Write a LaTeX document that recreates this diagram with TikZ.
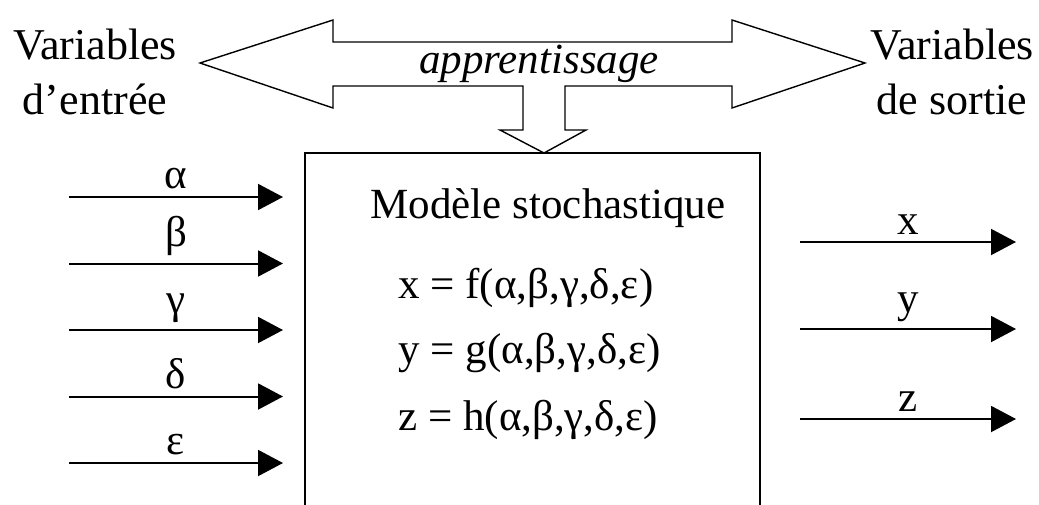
\documentclass[tikz,border=0pt]{standalone}
\usepackage{fontspec}
\setmainfont{Liberation Serif}
\usepackage{tikz}
\usetikzlibrary{arrows.meta,positioning}

\begin{document}
\begin{tikzpicture}[
    x=0.5pt, y=-0.5pt,
    every node/.style={align=center},
    txt/.style={font=\fontsize{21.5}{27.5}\selectfont},
    sidetxt/.style={font=\fontsize{22}{27.5}\selectfont},
    flow/.style={line width=1pt, -{Triangle[length=12.5pt,width=13pt]}},
    model/.style={
        rectangle,
        draw=black,
        line width=0.9pt,
        minimum width=227.5pt,
        minimum height=187pt
    }
]
\useasboundingbox (0,0) rectangle (1039,504);
\clip (0,0) rectangle (1039,504);

% side labels
\node[sidetxt] (varin) at (95,72) {Variables\\d'entrée};
\node[sidetxt] (varout) at (952,72) {Variables\\de sortie};

% learning arrow
\draw[line width=0.7pt, line join=miter]
    (200,63) -- (333,20) -- (333,42) -- (732,42) -- (732,20) -- (865,63)
    -- (732,108) -- (732,86) -- (565,86) -- (565,130) -- (586,130)
    -- (544,153) -- (500,130) -- (523,130) -- (523,86) -- (333,86)
    -- (333,108) -- cycle;
\node[txt, font=\fontsize{21.5}{27.5}\selectfont\itshape] (learn) at (539,64) {apprentissage};

% model
\node[model] (box) at (532.5,340) {};
\node[txt] (title) at (548,208) {Modèle stochastique};
\node[txt, anchor=west, inner sep=0pt] (eqx) at (398,288) {x = f(α,β,γ,δ,ε)};
\node[txt, anchor=west, inner sep=0pt] (eqy) at (398,353) {y = g(α,β,γ,δ,ε)};
\node[txt, anchor=west, inner sep=0pt] (eqz) at (398,420) {z = h(α,β,γ,δ,ε)};

% inputs
\foreach \lab [count=\i] in {α,β,γ,δ,ε} {
    \coordinate (in\i) at (69,{197+(\i-1)*66.5});
    \coordinate (inend\i) at (283,{197+(\i-1)*66.5});
    \draw[flow] (in\i) -- node[txt, above] {\lab} (inend\i);
}

% outputs
\foreach \lab/\y in {x/242, y/329, z/419} {
    \coordinate (out\lab) at (800,\y);
    \coordinate (outend\lab) at (1016,\y);
    \draw[flow] (out\lab) -- node[txt, above] {\lab} (outend\lab);
}
\end{tikzpicture}
\end{document}
